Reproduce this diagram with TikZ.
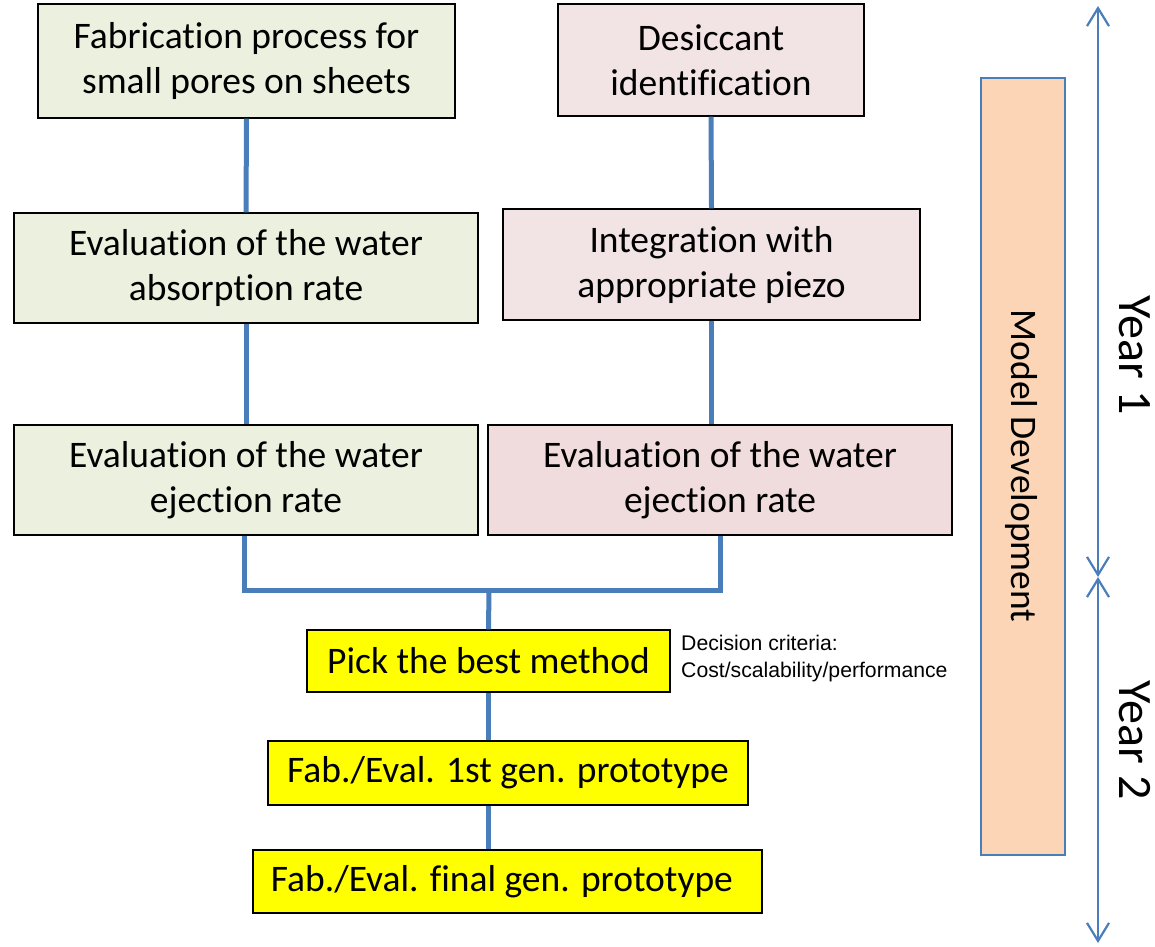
\documentclass[tikz,border=0pt]{standalone}
\usepackage{fontspec}
\setmainfont[Ligatures=NoCommon]{Carlito}
\newfontfamily\arialfont{Liberation Sans}
\usetikzlibrary{arrows.meta,calc}
\definecolor{boxgreen}{RGB}{235,241,222}
\definecolor{boxpink}{RGB}{242,228,228}
\definecolor{boxpinkb}{RGB}{240,220,220}
\definecolor{boxorange}{RGB}{251,213,181}
\definecolor{linkblue}{RGB}{74,126,187}
\definecolor{boxyellow}{RGB}{255,255,0}
\tikzset{
  pbox/.style={draw=black, line width=1.3pt, align=center, inner sep=0pt,
    font=\fontsize{37.5}{45}\selectfont},
  link/.style={draw=linkblue, line width=5pt},
  yearlabel/.style={rotate=-90, anchor=base, inner sep=0pt, font=\fontsize{48}{56}\selectfont},
  yeararrow/.style={draw=linkblue, line width=2.2pt,
    {Straight Barb[length=18pt,width=22pt,line width=2.2pt]}-{Straight Barb[length=18pt,width=22pt,line width=2.2pt]}},
}
\begin{document}
\begin{tikzpicture}[x=1pt,y=-1pt]
\useasboundingbox (0,0) rectangle (1155,946);
% boxes
\node[pbox, fill=boxgreen, minimum width=417pt, minimum height=114pt] (b1) at (246.5,61) {Fabrication process for\\small pores on sheets};
\node[pbox, fill=boxpink, minimum width=306pt, minimum height=112pt] (b2) at (711,60) {Desiccant\\identification};
\node[pbox, fill=boxgreen, minimum width=464pt, minimum height=110pt] (b3) at (246,268) {Evaluation of the water\\absorption rate};
\node[pbox, fill=boxpink, minimum width=417pt, minimum height=111pt] (b4) at (711.5,264.5) {Integration with\\appropriate piezo};
\node[pbox, fill=boxgreen, minimum width=464pt, minimum height=110pt] (b5) at (246,480) {Evaluation of the water\\ejection rate};
\node[pbox, fill=boxpinkb, minimum width=464pt, minimum height=110pt] (b6) at (720,480) {Evaluation of the water\\ejection rate};
\node[pbox, fill=boxyellow, minimum width=363pt, minimum height=62pt] (b7) at (488.5,661) {Pick the best method};
\node[pbox, fill=boxyellow, minimum width=480pt, minimum height=64pt] (b8) at (508,773) {Fab./Eval. 1st gen. prototype};
\node[pbox, fill=boxyellow, minimum width=509pt, minimum height=63pt] (b9) at (507.5,881.5) {\hspace*{-11pt}Fab./Eval. final gen. prototype};
\node[anchor=west, align=left, inner sep=0pt, font=\arialfont\fontsize{21.2}{27}\selectfont] (crit) at (681,659) {Decision criteria:\\Cost/scalability/performance};
% model development bar
\node[draw=linkblue, line width=2pt, fill=boxorange, minimum width=84pt, minimum height=777pt, inner sep=0pt] (md) at (1023,466.5) {};
\node[rotate=-90, anchor=base, font=\fontsize{37.5}{40}\selectfont, inner sep=0pt] (mdt) at (1011,466) {Model Development};
% years
\coordinate (yt) at (1098,6);
\coordinate (ym) at (1098,577);
\coordinate (yb) at (1098,943);
\draw[yeararrow] (yt) -- (ym);
\draw[yeararrow] (ym) -- (yb);
\node[yearlabel] (y1) at (1119,355) {Year 1};
\node[yearlabel] (y2) at (1119,740) {Year 2};
% connectors
\draw[link] (b1.south) -- (b3.north);
\draw[link] (b3.south) -- (b5.north);
\draw[link] (b2.south) -- (b4.north);
\draw[link] (b4.south) -- (b4.south |- b6.north);
\coordinate (jn) at (489,590);
\draw[link] ([xshift=-2pt]b5.south) |- (jn) -| (b6.south);
\draw[link] (jn) -- (b7.north);
\draw[link] (b7.south) -- (b7.south |- b8.north);
\draw[link] (b7.south |- b8.south) -- (b7.south |- b9.north);
\end{tikzpicture}
\end{document}
